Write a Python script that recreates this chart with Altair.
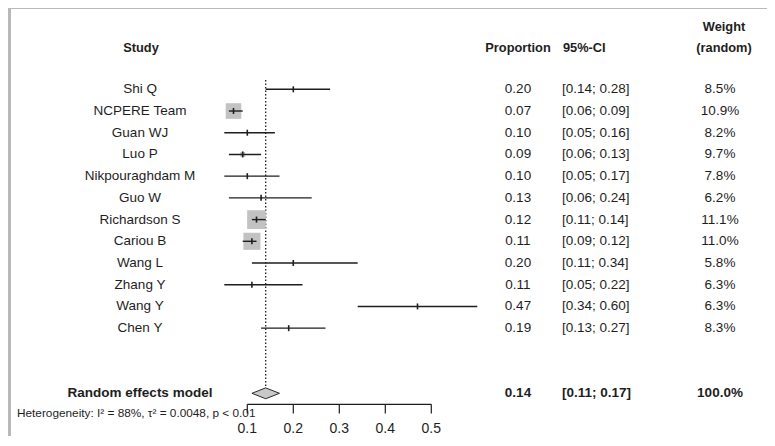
import altair as alt
import pandas as pd

# ---- data ----
studies = ["Shi Q", "NCPERE Team", "Guan WJ", "Luo P", "Nikpouraghdam M", "Guo W",
           "Richardson S", "Cariou B", "Wang L", "Zhang Y", "Wang Y", "Chen Y"]
proportion = [0.20, 0.07, 0.10, 0.09, 0.10, 0.13, 0.12, 0.11, 0.20, 0.11, 0.47, 0.19]
ci_lower = [0.14, 0.06, 0.05, 0.06, 0.05, 0.06, 0.11, 0.09, 0.11, 0.05, 0.34, 0.13]
ci_upper = [0.28, 0.09, 0.16, 0.13, 0.17, 0.24, 0.14, 0.12, 0.34, 0.22, 0.60, 0.27]
weight = [8.5, 10.9, 8.2, 9.7, 7.8, 6.2, 11.1, 11.0, 5.8, 6.3, 6.3, 8.3]

pooled_label = "Random effects model"
pooled_est = 0.14
pooled_lower = 0.11
pooled_upper = 0.17
pooled_weight = 100.0

tick_values = [0.1, 0.2, 0.3, 0.4, 0.5]
heterogeneity = "Heterogeneity: I\u00b2 = 88%, \u03c4\u00b2 = 0.0048, p < 0.01"

# ---- tables ----
n = len(studies)
df = pd.DataFrame({
    "study": studies,
    "row": list(range(n)),
    "est": proportion,
    "lo": ci_lower,
    "hi": ci_upper,
    "w": weight,
})
df["est_txt"] = df["est"].map(lambda v: f"{v:.2f}")
df["ci_txt"] = [f"[{a:.2f}; {b:.2f}]" for a, b in zip(df["lo"], df["hi"])]
df["w_txt"] = df["w"].map(lambda v: f"{v:.1f}%")

pooled_row = n + 2
pdf = pd.DataFrame({
    "label": [pooled_label], "row": [pooled_row],
    "est_txt": [f"{pooled_est:.2f}"],
    "ci_txt": [f"[{pooled_lower:.2f}; {pooled_upper:.2f}]"],
    "w_txt": [f"{pooled_weight:.1f}%"],
})
half = 0.25
diamond = pd.DataFrame({
    "x": [pooled_lower, pooled_est, pooled_upper],
    "y": [pooled_row, pooled_row - half, pooled_row],
    "y2": [pooled_row, pooled_row + half, pooled_row],
})
ref = pd.DataFrame({"x": [pooled_est], "y": [-0.43], "y2": [pooled_row]})

axis_row = pooled_row + 0.51
ticks = pd.DataFrame({"t": tick_values, "y": axis_row, "y2": axis_row + 0.42,
                      "ly": axis_row + 1.15, "lab": [f"{t:g}" for t in tick_values]})
axis_line = pd.DataFrame({"x": [min(tick_values)], "x2": [max(tick_values)], "y": [axis_row]})

headers = pd.DataFrame({
    "txt": ["Study", "Proportion", "95%-CI", "Weight", "(random)"],
    "row": [-1.91, -1.91, -1.91, -2.87, -1.91],
    "col": ["study", "prop", "ci", "w", "w"],
})

# ---- scales ----
FONT = "Liberation Sans"
INK = "#1e1e1e"
xs = alt.Scale(domain=[0.1, 0.5], range=[236.3, 420.3], zero=False, nice=False)
ys = alt.Scale(domain=[0, pooled_row], range=[80.3, 384.3], zero=False, nice=False)

X_STUDY, X_PROP, X_CI, X_W, X_WH = 129, 507, 551, 709, 713


def text_col(data, field, xpix, align="center", bold=False, size=13.5):
    return alt.Chart(data).mark_text(
        font=FONT, fontSize=size, color=INK, align=align, baseline="middle",
        fontWeight="bold" if bold else "normal"
    ).encode(
        x=alt.value(xpix),
        y=alt.Y("row:Q", scale=ys, axis=None),
        text=f"{field}:N",
    )


refline = alt.Chart(ref).mark_rule(color=INK, strokeDash=[1.5, 2], strokeWidth=1.3).encode(
    x=alt.X("x:Q", scale=xs, axis=None), y=alt.Y("y:Q", scale=ys, axis=None), y2="y2:Q")

squares = alt.Chart(df).mark_square(color="#c2c2c2", opacity=1).encode(
    x=alt.X("est:Q", scale=xs, axis=None),
    y=alt.Y("row:Q", scale=ys, axis=None),
    size=alt.Size("w:Q", scale=alt.Scale(type="pow", exponent=20, domain=[0, 11.1],
                                         range=[0, 350]), legend=None),
)

ci = alt.Chart(df).mark_rule(color=INK, strokeWidth=1.4).encode(
    x=alt.X("lo:Q", scale=xs, axis=None), x2="hi:Q",
    y=alt.Y("row:Q", scale=ys, axis=None))

est_tick = alt.Chart(df).mark_point(shape="M0,-1L0,1", size=36, stroke=INK,
                                    strokeWidth=1.6, filled=False, opacity=1).encode(
    x=alt.X("est:Q", scale=xs, axis=None), y=alt.Y("row:Q", scale=ys, axis=None))

dia = alt.Chart(diamond).mark_area(fill="#c8c8c8", stroke="#2a2a2a", strokeWidth=1,
                                   opacity=1).encode(
    x=alt.X("x:Q", scale=xs, axis=None), y=alt.Y("y:Q", scale=ys, axis=None), y2="y2:Q")

axl = alt.Chart(axis_line).mark_rule(color=INK, strokeWidth=1.2).encode(
    x=alt.X("x:Q", scale=xs, axis=None), x2="x2:Q", y=alt.Y("y:Q", scale=ys, axis=None))
axt = alt.Chart(ticks).mark_rule(color=INK, strokeWidth=1.2).encode(
    x=alt.X("t:Q", scale=xs, axis=None), y=alt.Y("y:Q", scale=ys, axis=None), y2="y2:Q")
axlab = alt.Chart(ticks).mark_text(font=FONT, fontSize=14, color=INK, baseline="middle").encode(
    x=alt.X("t:Q", scale=xs, axis=None), y=alt.Y("ly:Q", scale=ys, axis=None), text="lab:N")

hdr_layers = []
for col, xpix, align in [("study", X_STUDY + 1, "center"), ("prop", X_PROP, "center"),
                         ("ci", X_CI + 1, "left"), ("w", X_WH, "center")]:
    hdr_layers.append(
        alt.Chart(headers[headers["col"] == col]).mark_text(
            font=FONT, fontSize=12.8, fontWeight="bold", color=INK, align=align,
            baseline="middle").encode(
            x=alt.value(xpix), y=alt.Y("row:Q", scale=ys, axis=None), text="txt:N"))

het = alt.Chart(pd.DataFrame({"txt": [heterogeneity], "row": [pooled_row + 0.9]})).mark_text(
    font=FONT, fontSize=11.8, color=INK, align="left", baseline="middle").encode(
    x=alt.value(6), y=alt.Y("row:Q", scale=ys, axis=None), text="txt:N")

chart = alt.layer(
    refline, squares, ci, est_tick, dia, axl, axt, axlab,
    text_col(df, "study", X_STUDY),
    text_col(df, "est_txt", X_PROP),
    text_col(df, "ci_txt", X_CI, align="left"),
    text_col(df, "w_txt", X_W),
    text_col(pdf, "label", X_STUDY, bold=True),
    text_col(pdf, "est_txt", X_PROP, bold=True),
    text_col(pdf, "ci_txt", X_CI, align="left", bold=True),
    text_col(pdf, "w_txt", X_W, bold=True),
    het, *hdr_layers,
).properties(
    width=756, height=427,
    padding={"left": 3, "top": 1, "right": 0, "bottom": 0},
    autosize=alt.AutoSizeParams(type="none"),
    background="#b9b9b9",
).configure_view(fill="white", stroke=None)

chart.save("out.html", embed_options={"renderer": "svg", "actions": False})
